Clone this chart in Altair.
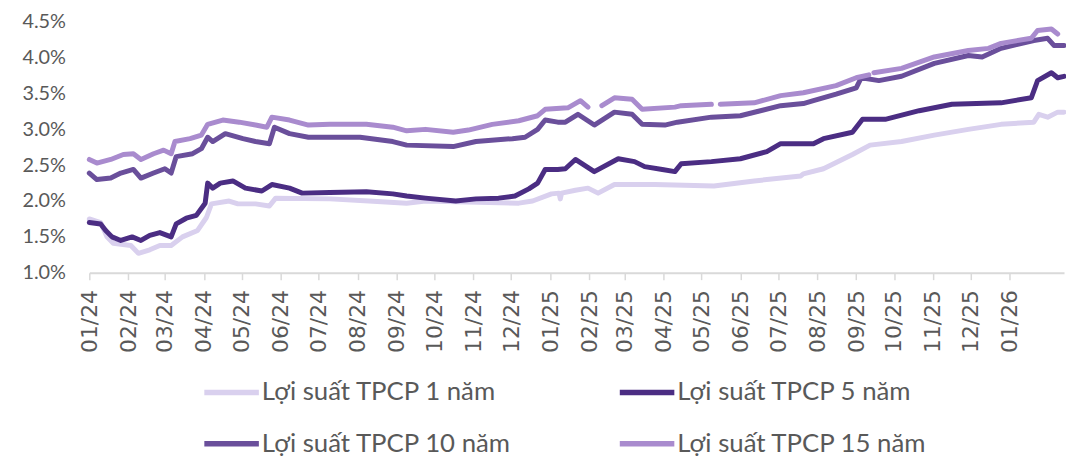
import altair as alt
import pandas as pd

series_names = ["Lợi suất TPCP 1 năm", "Lợi suất TPCP 5 năm",
                "Lợi suất TPCP 10 năm", "Lợi suất TPCP 15 năm"]
series_colors = ["#D9D0EE", "#4B2D83", "#6A4F9B", "#A98BCE"]
# legend fills column by column: this order gives rows (1, 5) and (10, 15)
legend_order = [series_names[0], series_names[2], series_names[1], series_names[3]]

dates_1y = ["2024-01-01", "2024-01-10", "2024-01-15", "2024-01-20", "2024-02-03", "2024-02-09",
            "2024-02-18", "2024-02-26", "2024-03-06", "2024-03-15", "2024-03-27", "2024-04-03",
            "2024-04-07", "2024-04-21", "2024-04-28", "2024-05-12", "2024-05-23", "2024-05-28",
            "2024-07-10", "2024-08-10", "2024-09-09", "2024-09-24", "2024-12-07", "2024-12-18",
            "2025-01-02", "2025-01-08", "2025-01-09", "2025-01-10", "2025-01-21", "2025-01-31",
            "2025-02-08", "2025-02-21", "2025-03-25", "2025-05-11", "2025-06-12", "2025-07-19",
            "2025-07-21", "2025-08-06", "2025-08-29", "2025-09-12", "2025-10-07", "2025-11-02",
            "2025-11-29", "2025-12-25", "2026-01-20", "2026-01-24", "2026-01-31", "2026-02-08",
            "2026-02-13"]
vals_1y = [1.75, 1.70, 1.50, 1.41, 1.38, 1.27,
           1.32, 1.38, 1.38, 1.50, 1.59, 1.77,
           1.96, 2.00, 1.96, 1.96, 1.93, 2.04,
           2.03, 2.00, 1.97, 2.00, 1.97, 2.00,
           2.10, 2.11, 2.03, 2.11, 2.15, 2.18,
           2.11, 2.23, 2.23, 2.21, 2.28, 2.35,
           2.38, 2.45, 2.65, 2.78, 2.83, 2.92,
           3.00, 3.07, 3.10, 3.21, 3.17, 3.24,
           3.24]

dates_5y = ["2024-01-01", "2024-01-10", "2024-01-14", "2024-01-19", "2024-01-26", "2024-02-04",
            "2024-02-11", "2024-02-18", "2024-02-26", "2024-03-06", "2024-03-10", "2024-03-18",
            "2024-03-26", "2024-04-02", "2024-04-04", "2024-04-08", "2024-04-14", "2024-04-24",
            "2024-05-04", "2024-05-17", "2024-05-25", "2024-06-08", "2024-06-18", "2024-07-10",
            "2024-08-08", "2024-08-29", "2024-09-09", "2024-09-24", "2024-10-18", "2024-11-03",
            "2024-11-21", "2024-12-04", "2024-12-15", "2024-12-22", "2024-12-28", "2025-01-07",
            "2025-01-13", "2025-01-21", "2025-02-05", "2025-02-24", "2025-03-09", "2025-03-17",
            "2025-03-31", "2025-04-10", "2025-04-15", "2025-05-09", "2025-06-01", "2025-06-22",
            "2025-07-03", "2025-07-29", "2025-08-06", "2025-08-29", "2025-09-06", "2025-09-24",
            "2025-10-21", "2025-11-16", "2025-12-25", "2026-01-18", "2026-01-23", "2026-02-03",
            "2026-02-08", "2026-02-13"]
vals_5y = [1.70, 1.68, 1.59, 1.50, 1.45, 1.50,
           1.45, 1.52, 1.56, 1.50, 1.68, 1.76,
           1.80, 1.97, 2.25, 2.18, 2.25, 2.28,
           2.18, 2.14, 2.23, 2.18, 2.11, 2.12,
           2.13, 2.10, 2.07, 2.04, 2.00, 2.03,
           2.04, 2.07, 2.17, 2.25, 2.44, 2.44,
           2.45, 2.58, 2.41, 2.59, 2.55, 2.48,
           2.44, 2.41, 2.52, 2.55, 2.59, 2.69,
           2.80, 2.80, 2.87, 2.96, 3.14, 3.14,
           3.26, 3.35, 3.37, 3.44, 3.68, 3.79,
           3.72, 3.74]

dates_10y = ["2024-01-01", "2024-01-07", "2024-01-18", "2024-01-26", "2024-02-05", "2024-02-11",
             "2024-02-21", "2024-03-01", "2024-03-06", "2024-03-10", "2024-03-23", "2024-03-30",
             "2024-04-04", "2024-04-08", "2024-04-18", "2024-05-02", "2024-05-12", "2024-05-23",
             "2024-05-27", "2024-06-08", "2024-06-23", "2024-08-03", "2024-08-29", "2024-09-09",
             "2024-10-16", "2024-11-03", "2024-12-02", "2024-12-12", "2024-12-22", "2024-12-28",
             "2025-01-07", "2025-01-13", "2025-01-23", "2025-02-05", "2025-02-21", "2025-03-07",
             "2025-03-15", "2025-04-02", "2025-04-12", "2025-05-09", "2025-06-01", "2025-07-03",
             "2025-07-21", "2025-07-29", "2025-08-16", "2025-09-01", "2025-09-05", "2025-09-19",
             "2025-10-07", "2025-11-02", "2025-11-29", "2025-12-10", "2025-12-25", "2026-01-20",
             "2026-01-31", "2026-02-05", "2026-02-13"]
vals_10y = [2.39, 2.30, 2.32, 2.39, 2.44, 2.32,
            2.39, 2.45, 2.39, 2.62, 2.66, 2.73,
            2.89, 2.83, 2.94, 2.87, 2.83, 2.80,
            3.03, 2.94, 2.89, 2.89, 2.83, 2.78,
            2.76, 2.83, 2.87, 2.89, 3.00, 3.13,
            3.10, 3.10, 3.21, 3.06, 3.24, 3.21,
            3.07, 3.06, 3.10, 3.17, 3.19, 3.33,
            3.36, 3.40, 3.49, 3.58, 3.72, 3.68,
            3.74, 3.92, 4.03, 4.01, 4.13, 4.24,
            4.27, 4.17, 4.17]

dates_15y = ["2024-01-01", "2024-01-07", "2024-01-18", "2024-01-28", "2024-02-05", "2024-02-11",
             "2024-02-21", "2024-02-29", "2024-03-06", "2024-03-09", "2024-03-21", "2024-03-30",
             "2024-04-04", "2024-04-16", "2024-04-29", "2024-05-12", "2024-05-21", "2024-05-25",
             "2024-06-08", "2024-06-23", "2024-07-10", "2024-08-08", "2024-08-29", "2024-09-09",
             "2024-09-24", "2024-10-16", "2024-10-28", "2024-11-16", "2024-12-07", "2024-12-22",
             "2024-12-28", "2025-01-15", "2025-01-25", "2025-01-31",
             "2025-02-11", "2025-02-21", "2025-03-07", "2025-03-15", "2025-04-10", "2025-04-15",
             "2025-05-09",
             "2025-05-16", "2025-06-12", "2025-07-03", "2025-07-21", "2025-08-16", "2025-09-01",
             "2025-09-11",
             "2025-09-15", "2025-10-07", "2025-11-02", "2025-11-29", "2025-12-15", "2025-12-25",
             "2026-01-18", "2026-01-23", "2026-02-03", "2026-02-08"]
vals_15y = [2.58, 2.53, 2.58, 2.65, 2.66, 2.58,
            2.66, 2.71, 2.66, 2.83, 2.87, 2.92,
            3.07, 3.13, 3.10, 3.06, 3.03, 3.17,
            3.13, 3.06, 3.07, 3.07, 3.03, 2.98,
            3.00, 2.96, 2.99, 3.07, 3.12, 3.19,
            3.28, 3.30, 3.40, 3.31,
            3.33, 3.44, 3.42, 3.28, 3.31, 3.33,
            3.35,
            3.35, 3.37, 3.47, 3.51, 3.61, 3.72,
            3.76,
            3.79, 3.85, 4.01, 4.10, 4.13, 4.20,
            4.27, 4.38, 4.40, 4.33]
segs_15y = [0] * 34 + [1] * 7 + [2] * 7 + [3] * 10

y_ticks = [1.0, 1.5, 2.0, 2.5, 3.0, 3.5, 4.0, 4.5]
month_ticks = [f"{y}-{m:02d}-01" for y, m in
               [(2024, m) for m in range(1, 13)] + [(2025, m) for m in range(1, 13)] + [(2026, 1)]]

frames = []
for name, d, v, s in [
    (series_names[0], dates_1y, vals_1y, [0] * len(vals_1y)),
    (series_names[1], dates_5y, vals_5y, [0] * len(vals_5y)),
    (series_names[2], dates_10y, vals_10y, [0] * len(vals_10y)),
    (series_names[3], dates_15y, vals_15y, segs_15y),
]:
    frames.append(pd.DataFrame({"date": d, "value": v, "series": name, "seg": s}))
df = pd.concat(frames, ignore_index=True)
df["key"] = df["series"] + "_" + df["seg"].astype(str)

x_dates = [alt.DateTime(year=int(t[:4]), month=int(t[5:7]), date=1) for t in month_ticks]

chart = alt.Chart(df).mark_line(
    strokeWidth=5, strokeCap="round", strokeJoin="round"
).encode(
    x=alt.X("date:T",
            scale=alt.Scale(domain=[alt.DateTime(year=2024, month=1, date=1),
                                    alt.DateTime(year=2026, month=2, date=13)]),
            axis=alt.Axis(values=x_dates, format="%m/%y", labelAngle=270, title=None,
                          grid=False, domainColor="#d9d9d9", domainWidth=2,
                          tickColor="#d9d9d9", tickSize=7, tickWidth=1.5,
                          labelFont="DejaVu Sans", labelFontSize=22, labelColor="#595959",
                          labelPadding=10, labelOverlap=False, labelFlush=False)),
    y=alt.Y("value:Q",
            scale=alt.Scale(domain=[1.0, 4.5], nice=False, zero=False),
            axis=alt.Axis(values=y_ticks, labelExpr="format(datum.value, '.1f') + '%'",
                          title=None, grid=False, domain=False, ticks=False,
                          labelFont="Lato", labelFontSize=20, labelColor="#595959",
                          labelPadding=24)),
    color=alt.Color("series:N",
                    scale=alt.Scale(domain=series_names, range=series_colors),
                    sort=series_names,
                    legend=alt.Legend(title=None, orient="none", legendX=113, legendY=343,
                                      values=legend_order,
                                      columns=2, symbolType="stroke", symbolSize=3025,
                                      symbolStrokeWidth=5.5, labelFont="Lato",
                                      labelFontSize=26, labelColor="#595959",
                                      labelOffset=0, columnPadding=98, rowPadding=8,
                                      gridAlign="all", labelLimit=400, padding=0)),
    detail="key:N",
    order=alt.Order("date:T"),
).properties(
    width=983, height=253,
    autosize=alt.AutoSizeParams(type="none"),
    padding={"left": 82, "top": 12, "right": 2, "bottom": 194},
).configure_view(stroke=None)

chart.save("out.html", embed_options={"renderer": "svg", "actions": False})
